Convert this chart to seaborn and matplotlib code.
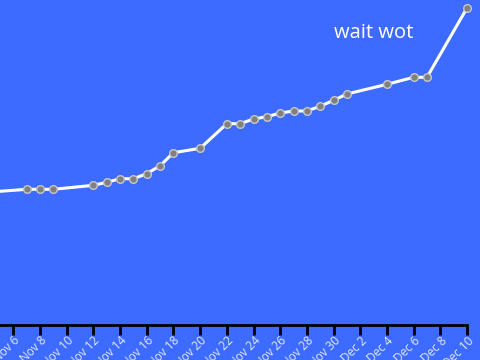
import matplotlib
matplotlib.use("Agg")
import matplotlib.pyplot as plt
import seaborn as sns
import pandas as pd

dates = ["2023-11-04", "2023-11-07", "2023-11-08", "2023-11-09", "2023-11-12",
         "2023-11-13", "2023-11-14", "2023-11-15", "2023-11-16", "2023-11-17",
         "2023-11-18", "2023-11-20", "2023-11-22", "2023-11-23", "2023-11-24",
         "2023-11-25", "2023-11-26", "2023-11-27", "2023-11-28", "2023-11-29",
         "2023-11-30", "2023-12-01", "2023-12-04", "2023-12-06", "2023-12-07",
         "2023-12-10"]
values = [132.7, 135.7, 135.7, 135.7, 139.7, 142.7, 146.3, 146.3, 151.3, 159.3,
          172.3, 176.7, 201.3, 201.3, 206.0, 208.3, 212.0, 214.0, 214.0, 218.8,
          224.7, 231.0, 240.7, 247.7, 247.7, 317.0]
tick_dates = ["2023-11-06", "2023-11-08", "2023-11-10", "2023-11-12", "2023-11-14",
              "2023-11-16", "2023-11-18", "2023-11-20", "2023-11-22", "2023-11-24",
              "2023-11-26", "2023-11-28", "2023-11-30", "2023-12-02", "2023-12-04",
              "2023-12-06", "2023-12-08", "2023-12-10"]
tick_labels = ["Nov 6", "Nov 8", "Nov 10", "Nov 12", "Nov 14", "Nov 16", "Nov 18",
               "Nov 20", "Nov 22", "Nov 24", "Nov 26", "Nov 28", "Nov 30", "Dec 2",
               "Dec 4", "Dec 6", "Dec 8", "Dec 10"]
annotation = "wait wot"

df = pd.DataFrame({"date": pd.to_datetime(dates), "value": values})

bg = "#3d6bff"
sns.set_theme(style="white")
plt.rcParams["font.family"] = ["Open Sans", "DejaVu Sans"]

fig = plt.figure(figsize=(4.8, 3.6), dpi=100, facecolor=bg)
ax = fig.add_axes([0, 1 - 325 / 360, 467 / 480, 325 / 360])
ax.set_facecolor(bg)

sns.lineplot(data=df, x="date", y="value", ax=ax, color="white", linewidth=2.2,
             marker="o", markersize=5.5, markerfacecolor="#808080",
             markeredgecolor="#c8c8c8", markeredgewidth=1.0, clip_on=False)

ax.set_xlim(pd.Timestamp("2023-11-05"), pd.Timestamp("2023-12-10"))
ax.set_ylim(0, 325)
ax.set_xticks(pd.to_datetime(tick_dates))
ax.set_xticklabels(tick_labels, rotation=45, ha="right", va="top",
                   rotation_mode="anchor", color="#e4eaff", fontsize=8.5)
ax.set_yticks([])
ax.set_xlabel("")
ax.set_ylabel("")
for s in ["top", "right", "left"]:
    ax.spines[s].set_visible(False)
ax.spines["bottom"].set_color("black")
ax.spines["bottom"].set_linewidth(2)
ax.tick_params(axis="x", direction="out", length=7.5, width=2, color="black",
               pad=-1, bottom=True)

fig.text(374 / 480, 1 - 33 / 360, annotation, color="white", fontsize=14.5,
         ha="center", va="center")

fig.savefig("out.png", dpi=100, facecolor=bg)
